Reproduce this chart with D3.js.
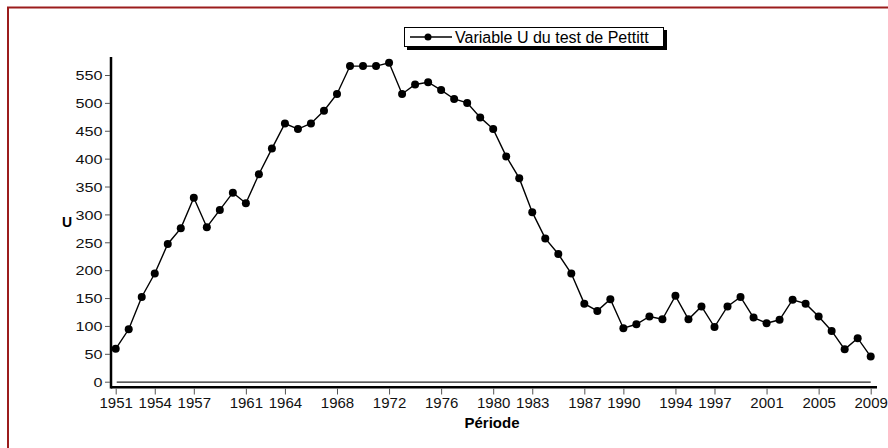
<!doctype html>
<html>
<head>
<meta charset="utf-8">
<title>Pettitt</title>
<script src="https://d3js.org/d3.v7.min.js"></script>
<style>
body{margin:0;background:#fff;}
text{font-family:"Liberation Sans",Arial,sans-serif;}
</style>
</head>
<body>
<script>
// annees et valeurs U
var years = d3.range(1951, 2010);
var uValues = [59, 94, 152, 194, 247, 275, 330, 277, 308, 339,
  320, 372, 418, 463, 453, 463, 486, 516, 566, 566,
  566, 572, 516, 533, 537, 523, 507, 500, 474, 453,
  404, 365, 304, 257, 229, 194, 140, 127, 148, 96,
  103, 117, 112, 154, 112, 135, 98, 135, 152, 115,
  105, 111, 147, 140, 117, 91, 58, 78, 45];
var xTicks = [1951, 1954, 1957, 1961, 1964, 1968, 1972, 1976, 1980, 1983, 1987, 1990, 1994, 1997, 2001, 2005, 2009];
var yTicks = d3.range(0, 551, 50);
var legendLabel = "Variable U du test de Pettitt";

var width = 888, height = 448;
var svg = d3.select("body").append("svg")
    .attr("width", width)
    .attr("height", height);

// cadre rouge
svg.append("path")
    .attr("d", "M8,448 V7.5 H888")
    .attr("fill", "none")
    .attr("stroke", "#9b1c1c")
    .attr("stroke-width", 2);

var x = d3.scaleLinear().domain([1951, 2009]).range([115.7, 870.7]);
var y = d3.scaleLinear().domain([0, 550]).range([381.7, 75]);

// axe y
svg.append("line")
    .attr("x1", 111).attr("x2", 111)
    .attr("y1", 57).attr("y2", 388.5)
    .attr("stroke", "#000").attr("stroke-width", 2.5);

var yAxis = svg.append("g").attr("transform", "translate(110,0)")
    .call(d3.axisLeft(y).tickValues(yTicks).tickSize(5).tickPadding(2));
yAxis.select(".domain").remove();
yAxis.selectAll("line").attr("stroke", "#555");
yAxis.selectAll("text").attr("font-size", 15).attr("fill", "#111")
    .attr("transform", "scale(1.08,0.88)")
    .attr("dy", "0.36em")
    .style("font-family", "Liberation Sans, Arial, sans-serif");
// compense le scale vertical
yAxis.selectAll(".tick text").attr("y", function(){ return 0; });
yAxis.selectAll(".tick").each(function(d){
  d3.select(this).select("text").attr("transform", "scale(1.08,0.88)");
});

// axe x
svg.append("line")
    .attr("x1", 111).attr("x2", 877)
    .attr("y1", 387.3).attr("y2", 387.3)
    .attr("stroke", "#000").attr("stroke-width", 2.5);

// ligne du zero
svg.append("line")
    .attr("x1", x(1951) + 1).attr("x2", x(2009))
    .attr("y1", y(0) + 0.5).attr("y2", y(0) + 0.5)
    .attr("stroke", "#222").attr("stroke-width", 1.3);

var xAxis = svg.append("g").attr("transform", "translate(0,388.5)")
    .call(d3.axisBottom(x).tickValues(xTicks).tickFormat(d3.format("d")).tickSize(6).tickPadding(3));
xAxis.select(".domain").remove();
xAxis.selectAll("line").attr("stroke", "#555");
xAxis.selectAll("text").attr("font-size", 15).attr("fill", "#111")
    .style("font-family", "Liberation Sans, Arial, sans-serif");

// titres
svg.append("text")
    .attr("x", 492).attr("y", 428)
    .attr("text-anchor", "middle")
    .attr("font-size", 15).attr("font-weight", "bold")
    .text("Période");
svg.append("text")
    .attr("x", 67).attr("y", 227)
    .attr("text-anchor", "middle")
    .attr("font-size", 14).attr("font-weight", "bold")
    .text("U");

// courbe
var line = d3.line()
    .x(function(d, i){ return x(years[i]); })
    .y(function(d){ return y(d); });

svg.append("path")
    .datum(uValues)
    .attr("d", line)
    .attr("fill", "none")
    .attr("stroke", "#000")
    .attr("stroke-width", 1.4);

svg.selectAll("circle.pt")
    .data(uValues)
    .enter()
    .append("circle")
    .attr("class", "pt")
    .attr("cx", function(d, i){ return x(years[i]); })
    .attr("cy", function(d){ return y(d); })
    .attr("r", 4)
    .attr("fill", "#000");

// legende
var lg = svg.append("g").attr("transform", "translate(404,27)");
lg.append("rect")
    .attr("x", 3).attr("y", 3).attr("width", 260).attr("height", 20)
    .attr("fill", "#000");
lg.append("rect")
    .attr("x", 0.5).attr("y", 0.5).attr("width", 259).attr("height", 19)
    .attr("fill", "#fff").attr("stroke", "#000").attr("stroke-width", 1);
lg.append("line")
    .attr("x1", 6).attr("x2", 48).attr("y1", 10).attr("y2", 10)
    .attr("stroke", "#000").attr("stroke-width", 1.4);
lg.append("circle")
    .attr("cx", 24).attr("cy", 10).attr("r", 3.5).attr("fill", "#000");
lg.append("text")
    .attr("x", 51).attr("y", 15.5)
    .attr("font-size", 16)
    .text(legendLabel);
</script>
</body>
</html>
